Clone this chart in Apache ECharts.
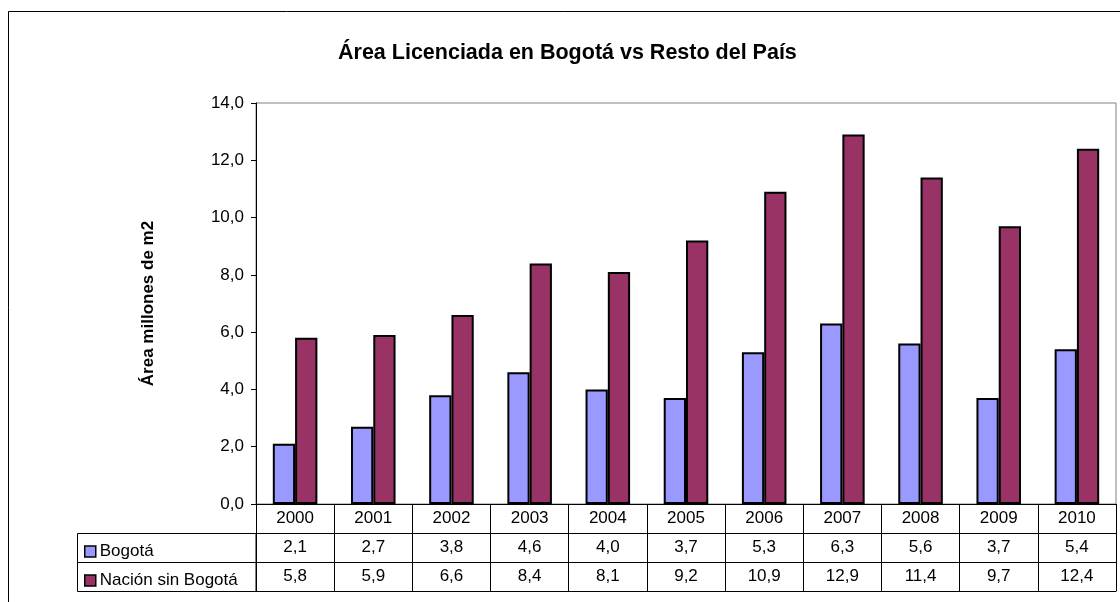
<!DOCTYPE html>
<html lang="es">
  <head>
    <meta charset="UTF-8" />
    <title>Área Licenciada en Bogotá vs Resto del País</title>
    <script src="https://cdn.jsdelivr.net/npm/echarts@6/dist/echarts.min.js"></script>
    <style>
      html, body { margin: 0; padding: 0; background: #fff; }
      #main { width: 1120px; height: 602px; }
    </style>
  </head>
  <body>
    <div id="main"></div>

    <script>
      const years = ['2000', '2001', '2002', '2003', '2004', '2005', '2006', '2007', '2008', '2009', '2010'];
      const bogota = [2.1, 2.7, 3.8, 4.6, 4.0, 3.7, 5.3, 6.3, 5.6, 3.7, 5.4];
      const nacion = [5.8, 5.9, 6.6, 8.4, 8.1, 9.2, 10.9, 12.9, 11.4, 9.7, 12.4];
      const yTicks = { min: 0, max: 14, interval: 2 };

      const font = 'Arial, "Liberation Sans", sans-serif';
      const fmt = (v) => v.toFixed(1).replace('.', ',');

      // one bottom axis per data-table row
      function tableAxis(data, offset, showLabel, showTick) {
        return {
          type: 'category',
          data: data,
          position: 'bottom',
          offset: offset,
          axisLine: { show: true, lineStyle: { color: '#000', width: 1 } },
          axisTick: { show: showTick, alignWithLabel: false, length: 29, lineStyle: { color: '#000', width: 1 } },
          axisLabel: { show: showLabel, color: '#000', fontSize: 17, fontFamily: font, margin: 6, interval: 0 },
          splitLine: { show: false }
        };
      }

      const legendText = { fontSize: 17, fontFamily: font, color: '#000', padding: [0, 0, 0, -1] };

      const options = {
        animation: false,
        backgroundColor: '#fff',
        title: {
          text: 'Área Licenciada en Bogotá vs Resto del País',
          left: 333,
          top: 37,
          textStyle: { fontSize: 21.5, fontWeight: 'bold', fontFamily: font, color: '#000' }
        },
        grid: {
          left: 256, right: 4, top: 103, bottom: 98,
          show: true, borderColor: '#808080', borderWidth: 1, backgroundColor: '#fff'
        },
        legend: [
          {
            data: ['Bogotá'], left: 79, top: 538, itemWidth: 11, itemHeight: 11, icon: 'rect',
            textStyle: legendText,
            itemStyle: { borderColor: '#000', borderWidth: 1.5 }
          },
          {
            data: ['Nación sin Bogotá'], left: 79, top: 567, itemWidth: 11, itemHeight: 11, icon: 'rect',
            textStyle: legendText,
            itemStyle: { borderColor: '#000', borderWidth: 1.5 }
          }
        ],
        xAxis: [
          tableAxis(years, 0, true, true),
          tableAxis(bogota.map(fmt), 29, true, true),
          tableAxis(nacion.map(fmt), 58, true, true),
          tableAxis(years, 87, false, false)
        ],
        yAxis: {
          type: 'value',
          min: yTicks.min,
          max: yTicks.max,
          interval: yTicks.interval,
          name: 'Área millones de m2',
          nameLocation: 'middle',
          nameGap: 99,
          nameTextStyle: { fontSize: 17, fontWeight: 'bold', fontFamily: font, color: '#000' },
          axisLine: { show: true, lineStyle: { color: '#000', width: 1 } },
          axisTick: { show: true, length: 5, lineStyle: { color: '#000' } },
          axisLabel: { color: '#000', fontSize: 17, fontFamily: font, margin: 12, formatter: fmt },
          splitLine: { show: false }
        },
        series: [
          {
            name: 'Bogotá', type: 'bar', data: bogota, xAxisIndex: 0,
            barGap: '0%', barCategoryGap: '43%',
            itemStyle: { color: '#9999FF', borderColor: '#000', borderWidth: 2 }
          },
          {
            name: 'Nación sin Bogotá', type: 'bar', data: nacion, xAxisIndex: 0,
            itemStyle: { color: '#993366', borderColor: '#000', borderWidth: 2 }
          }
        ],
        graphic: [
          {
            type: 'rect', silent: true, z: 0,
            shape: { x: 8.5, y: 11.5, width: 1200, height: 700 },
            style: { fill: null, stroke: '#000', lineWidth: 1 }
          },
          {
            type: 'rect', silent: true, z: 10,
            shape: { x: 77.5, y: 533.5, width: 178.5, height: 58 },
            style: { fill: null, stroke: '#000', lineWidth: 1 }
          },
          {
            type: 'line', silent: true, z: 10,
            shape: { x1: 77.5, y1: 562.5, x2: 256, y2: 562.5 },
            style: { stroke: '#000', lineWidth: 1 }
          }
        ]
      };

      const myChart = echarts.init(document.querySelector('#main'), null, { renderer: 'canvas' });
      myChart.setOption(options);
    </script>
  </body>
</html>
